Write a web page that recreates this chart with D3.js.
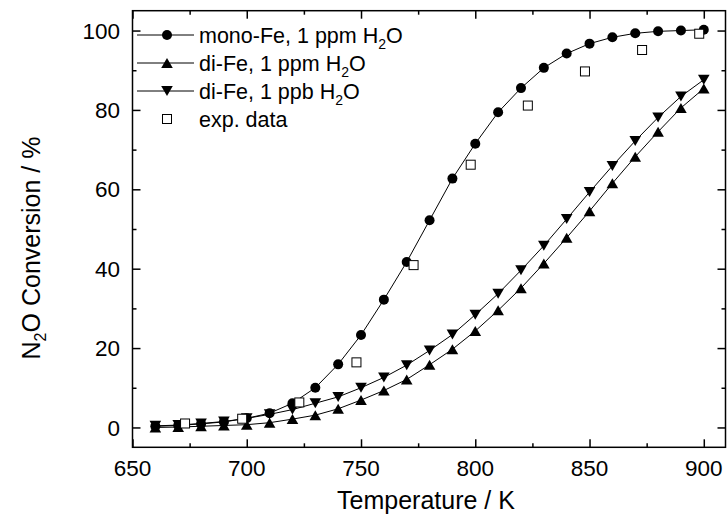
<!DOCTYPE html>
<html><head><meta charset="utf-8">
<script src="https://cdn.jsdelivr.net/npm/d3@7"></script>
<style>
html,body{margin:0;padding:0;background:#fff;}
svg text{font-family:"Liberation Sans",Arial,sans-serif;fill:#000;}
</style></head>
<body>
<svg id="chart" width="727" height="525"></svg>
<script>
// ---- data ----
const temps = [660,670,680,690,700,710,720,730,740,750,760,770,780,790,800,810,820,830,840,850,860,870,880,890,900];
const monoFe1ppm = [0.3,0.5,0.9,1.4,2.3,3.6,6.1,10.0,15.9,23.3,32.2,41.7,52.2,62.7,71.5,79.4,85.5,90.6,94.2,96.7,98.3,99.3,99.8,100.0,100.2];
const diFe1ppm   = [0.0,0.1,0.3,0.5,0.7,1.2,2.1,3.1,4.7,6.9,9.3,12.1,15.8,19.7,24.3,29.5,35.1,41.3,47.8,54.5,61.5,68.2,74.5,80.5,85.4];
const diFe1ppb   = [0.4,0.6,1.0,1.5,2.3,3.3,4.5,6.1,7.7,10.0,12.6,15.7,19.4,23.4,28.4,33.7,39.6,45.8,52.5,59.3,65.9,72.2,78.1,83.4,87.6];
const expTemps = [673,698,723,748,773,798,823,848,873,898];
const expData  = [1.0,2.2,6.3,16.4,40.9,66.2,81.1,89.7,95.1,99.2];
const xTicks = [650,700,750,800,850,900];
const xMinor = [675,725,775,825,875];
const yTicks = [0,20,40,60,80,100];
const yMinor = [10,30,50,70,90];
const legendLabels = [
  {main:"mono-Fe, 1 ppm H", sub:"2", tail:"O", sym:"circle"},
  {main:"di-Fe, 1 ppm H", sub:"2", tail:"O", sym:"up"},
  {main:"di-Fe, 1 ppb H", sub:"2", tail:"O", sym:"down"},
  {main:"exp. data", sub:"", tail:"", sym:"square"}
];

// ---- layout ----
const L = 132.5, R = 725.5, T = 10.7, B = 447.3;
const svg = d3.select("#chart");
const x = d3.scaleLinear().domain([650, 909.5]).range([L, R]);
const y = d3.scaleLinear().domain([-5, 105]).range([B, T]);

// frame
svg.append("rect").attr("x", L).attr("y", T).attr("width", R - L).attr("height", B - T)
  .attr("fill", "none").attr("stroke", "#000").attr("stroke-width", 1.5);

// axes with inward ticks
const fmt = d3.format("d");
svg.append("g").attr("transform", `translate(0,${B})`)
  .call(d3.axisTop(x).tickValues(xTicks).tickSize(8).tickFormat(""));
svg.append("g").attr("transform", `translate(0,${B})`)
  .call(d3.axisTop(x).tickValues(xMinor).tickSize(4).tickFormat(""));
svg.append("g").attr("transform", `translate(0,${T})`)
  .call(d3.axisBottom(x).tickValues(xTicks).tickSize(8).tickFormat(""));
svg.append("g").attr("transform", `translate(0,${T})`)
  .call(d3.axisBottom(x).tickValues(xMinor).tickSize(4).tickFormat(""));
svg.append("g").attr("transform", `translate(${L},0)`)
  .call(d3.axisRight(y).tickValues(yTicks).tickSize(8).tickFormat(""));
svg.append("g").attr("transform", `translate(${L},0)`)
  .call(d3.axisRight(y).tickValues(yMinor).tickSize(4).tickFormat(""));
svg.append("g").attr("transform", `translate(${R},0)`)
  .call(d3.axisLeft(y).tickValues(yTicks).tickSize(8).tickFormat(""));
svg.append("g").attr("transform", `translate(${R},0)`)
  .call(d3.axisLeft(y).tickValues(yMinor).tickSize(4).tickFormat(""));
svg.selectAll(".domain").remove();
svg.selectAll(".tick line").attr("stroke", "#000").attr("stroke-width", 1.5);

// tick labels
svg.append("g").selectAll("text").data(xTicks).join("text")
  .attr("x", d => x(d)).attr("y", 476).attr("text-anchor", "middle")
  .attr("font-size", 22.5).text(d => fmt(d));
svg.append("g").selectAll("text").data(yTicks).join("text")
  .attr("x", 120).attr("y", d => y(d)).attr("dy", "0.36em").attr("text-anchor", "end")
  .attr("font-size", 22.5).text(d => fmt(d));

// axis titles
svg.append("text").attr("x", 426).attr("y", 509).attr("text-anchor", "middle")
  .attr("font-size", 25).text("Temperature / K");
const yt = svg.append("text").attr("transform", "translate(40,248) rotate(-90)")
  .attr("text-anchor", "middle").attr("font-size", 25);
yt.append("tspan").text("N");
yt.append("tspan").attr("font-size", 16).attr("dy", 6).text("2");
yt.append("tspan").attr("dy", -6).text("O Conversion / %");

// symbols
function drawSym(g, type, cx, cy) {
  if (type === "circle") {
    g.append("circle").attr("cx", cx).attr("cy", cy).attr("r", 5).attr("fill", "#000");
  } else if (type === "up") {
    g.append("path").attr("d", `M${cx},${cy-5}L${cx+5.8},${cy+5}L${cx-5.8},${cy+5}Z`).attr("fill", "#000");
  } else if (type === "down") {
    g.append("path").attr("d", `M${cx},${cy+5}L${cx+5.8},${cy-5}L${cx-5.8},${cy-5}Z`).attr("fill", "#000");
  } else if (type === "square") {
    g.append("rect").attr("x", cx - 4.5).attr("y", cy - 4.5).attr("width", 9).attr("height", 9)
      .attr("fill", "#fff").attr("stroke", "#000").attr("stroke-width", 1);
  }
}

const line = d3.line().x(d => x(d[0])).y(d => y(d[1]));
const series = [
  {vals: diFe1ppm, sym: "up"},
  {vals: diFe1ppb, sym: "down"},
  {vals: monoFe1ppm, sym: "circle"}
];
series.forEach(s => {
  const pts = temps.map((t, i) => [t, s.vals[i]]);
  svg.append("path").datum(pts).attr("d", line).attr("fill", "none")
    .attr("stroke", "#000").attr("stroke-width", 1);
});
series.forEach(s => {
  const g = svg.append("g");
  temps.forEach((t, i) => drawSym(g, s.sym, x(t), y(s.vals[i])));
});
const ge = svg.append("g");
expTemps.forEach((t, i) => drawSym(ge, "square", x(t), y(expData[i])));

// legend
const lg = svg.append("g");
const rowY = [35, 63, 91, 119];
legendLabels.forEach((d, i) => {
  const yy = rowY[i];
  if (d.sym !== "square") {
    lg.append("line").attr("x1", 137).attr("x2", 194).attr("y1", yy).attr("y2", yy)
      .attr("stroke", "#000").attr("stroke-width", 1);
  }
  drawSym(lg, d.sym, 167, yy);
  const t = lg.append("text").attr("x", 199).attr("y", yy).attr("dy", "0.36em").attr("font-size", 21.5);
  t.append("tspan").text(d.main);
  if (d.sub) {
    t.append("tspan").attr("font-size", 14).attr("dy", 6).text(d.sub);
    t.append("tspan").attr("dy", -6).text(d.tail);
  }
});
</script>
</body></html>
